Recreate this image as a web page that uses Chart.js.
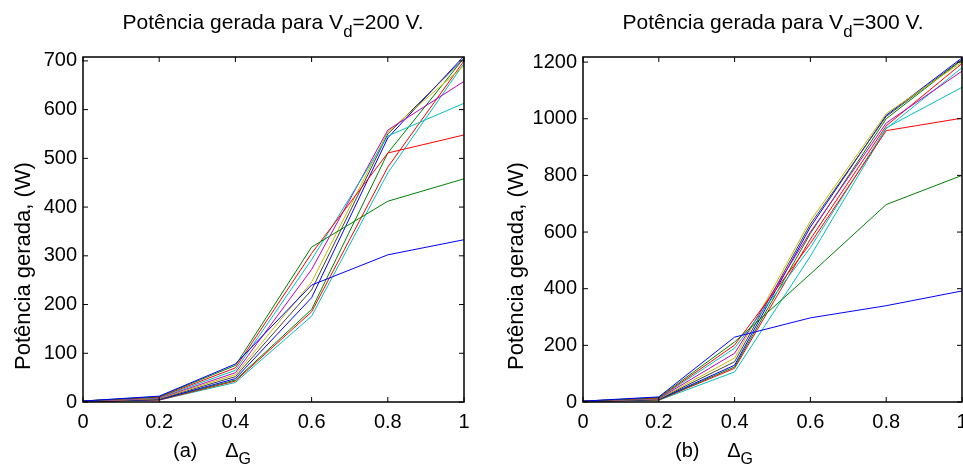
<!DOCTYPE html>
<html>
<head>
<meta charset="utf-8">
<script src="https://cdn.jsdelivr.net/npm/chart.js@4.4.1/dist/chart.umd.min.js"></script>
<style>
  body { margin: 0; background: #fff; font-family: "Liberation Sans", Arial, sans-serif; }
  #wrap { position: relative; width: 963px; height: 466px; overflow: hidden; }
  .cv { position: absolute; top: 0; }
  .lbl { position: absolute; color: #000; white-space: nowrap; }
  .ttl { position: absolute; top: 10px; width: 400px; text-align: center; font-size: 21px; color: #000; white-space: nowrap; }
  .ylab { position: absolute; width: 300px; text-align: center; font-size: 22px; color: #000; white-space: nowrap;
          transform: translate(-50%, -50%) rotate(-90deg); }
  sub { font-size: 0.8em; vertical-align: -0.45em; line-height: 0; }
</style>
</head>
<body>
<div id="wrap">
  <div class="cv" style="left:0;width:480px;height:466px;"><canvas id="chartA"></canvas></div>
  <div class="cv" style="left:480px;width:500px;height:466px;"><canvas id="chartB"></canvas></div>
  <div class="ttl" style="left:73px;">Potência gerada para V<sub>d</sub>=200 V.</div>
  <div class="ttl" style="left:573px;">Potência gerada para V<sub>d</sub>=300 V.</div>
  <div class="ylab" style="left:23px;top:266px;">Potência gerada, (W)</div>
  <div class="ylab" style="left:516px;top:266px;">Potência gerada, (W)</div>
  <div class="lbl" style="left:173px;top:439px;font-size:20px;">(a)&nbsp;&nbsp;&nbsp;&nbsp;&nbsp;Δ<sub>G</sub></div>
  <div class="lbl" style="left:675px;top:439px;font-size:20px;">(b)&nbsp;&nbsp;&nbsp;&nbsp;&nbsp;Δ<sub>G</sub></div>
</div>
<script>
// Delta_G values (x axis)
const deltaG = [0, 0.2, 0.4, 0.6, 0.8, 1];
const xTicks = [0, 0.2, 0.4, 0.6, 0.8, 1];
const yTicksA = [0, 100, 200, 300, 400, 500, 600, 700];
const yTicksB = [0, 200, 400, 600, 800, 1000, 1200];

// MATLAB default colour order
const lineColors = ['#0000ff', '#008000', '#ff0000', '#00bfbf', '#bf00bf', '#bfbf00', '#404040',
                    '#0000ff', '#008000', '#ff0000', '#00bfbf'];

// (a) Vd = 200 V, generated power (W)
const powA1  = [2, 12, 78, 240, 302, 333];
const powA2  = [2, 11, 75, 318, 412, 458];
const powA3  = [2, 10, 70, 305, 511, 548];
const powA4  = [2, 9, 65, 292, 546, 613];
const powA5  = [1, 8, 60, 272, 558, 658];
const powA6  = [1, 7, 56, 246, 554, 690];
const powA7  = [1, 6, 52, 230, 550, 705];
const powA8  = [1, 5, 48, 214, 542, 710];
const powA9  = [1, 5, 45, 190, 511, 706];
const powA10 = [1, 4, 43, 185, 482, 700];
const powA11 = [1, 4, 40, 176, 470, 695];

// (b) Vd = 300 V, generated power (W)
const powB1  = [3, 18, 229, 297, 340, 392];
const powB2  = [3, 16, 212, 452, 697, 800];
const powB3  = [3, 14, 201, 560, 958, 1002];
const powB4  = [3, 13, 190, 545, 968, 1111];
const powB5  = [2, 12, 172, 600, 985, 1168];
const powB6  = [2, 11, 155, 640, 1018, 1200];
const powB7  = [2, 10, 142, 628, 1008, 1210];
const powB8  = [2, 9, 130, 618, 1012, 1215];
const powB9  = [2, 8, 124, 595, 1000, 1208];
const powB10 = [2, 7, 119, 575, 975, 1195];
const powB11 = [2, 6, 106, 515, 965, 1180];

const seriesA = [powA1, powA2, powA3, powA4, powA5, powA6, powA7, powA8, powA9, powA10, powA11];
const seriesB = [powB1, powB2, powB3, powB4, powB5, powB6, powB7, powB8, powB9, powB10, powB11];

const tickFont = { family: '"Liberation Sans", Arial, sans-serif', size: 20 };

// box around the plot plus inward tick marks (MATLAB style)
const matlabBox = {
    id: 'matlabBox',
    afterDraw(chart) {
        const ctx = chart.ctx;
        const a = chart.chartArea;
        const xs = chart.scales.x, ys = chart.scales.y;
        ctx.save();
        ctx.strokeStyle = '#000';
        ctx.lineWidth = 1.5;
        ctx.strokeRect(a.left, a.top, a.right - a.left, a.bottom - a.top);
        ctx.lineWidth = 1;
        ctx.beginPath();
        xs.ticks.forEach(t => {
            const px = xs.getPixelForValue(t.value);
            ctx.moveTo(px, a.bottom); ctx.lineTo(px, a.bottom - 5);
            ctx.moveTo(px, a.top); ctx.lineTo(px, a.top + 5);
        });
        ys.ticks.forEach(t => {
            const py = ys.getPixelForValue(t.value);
            ctx.moveTo(a.left, py); ctx.lineTo(a.left + 5, py);
            ctx.moveTo(a.right, py); ctx.lineTo(a.right - 5, py);
        });
        ctx.stroke();
        ctx.restore();
    }
};

function makeChart(id, series, yMax, yTicks, yAxisWidth, padRight) {
    const datasets = series.map((vals, i) => ({
        data: vals.map((v, j) => ({ x: deltaG[j], y: v })),
        borderColor: lineColors[i],
        borderWidth: 1,
        pointRadius: 0,
        fill: false,
        tension: 0
    }));
    return new Chart(document.getElementById(id), {
        type: 'line',
        data: { datasets },
        options: {
            responsive: true,
            maintainAspectRatio: false,
            animation: false,
            layout: { padding: { top: 57, right: padRight, left: 0, bottom: 0 } },
            plugins: { legend: { display: false }, tooltip: { enabled: false } },
            scales: {
                x: {
                    type: 'linear',
                    min: 0, max: 1,
                    grid: { display: false, drawTicks: false },
                    border: { display: false },
                    afterBuildTicks: s => { s.ticks = xTicks.map(v => ({ value: v })); },
                    ticks: {
                        color: '#000',
                        font: tickFont,
                        padding: 8,
                        maxRotation: 0,
                        autoSkip: false,
                        callback: v => String(v)
                    },
                    afterFit: s => { s.height = 64; }
                },
                y: {
                    min: 0, max: yMax,
                    grid: { display: false, drawTicks: false },
                    border: { display: false },
                    afterBuildTicks: s => { s.ticks = yTicks.map(v => ({ value: v })); },
                    ticks: {
                        color: '#000',
                        font: tickFont,
                        padding: 6,
                        autoSkip: false,
                        callback: v => String(v)
                    },
                    afterFit: s => { s.width = yAxisWidth; }
                }
            }
        },
        plugins: [matlabBox]
    });
}

makeChart('chartA', seriesA, 708, yTicksA, 83, 16);
makeChart('chartB', seriesB, 1218, yTicksB, 103, 18);
</script>
</body>
</html>
